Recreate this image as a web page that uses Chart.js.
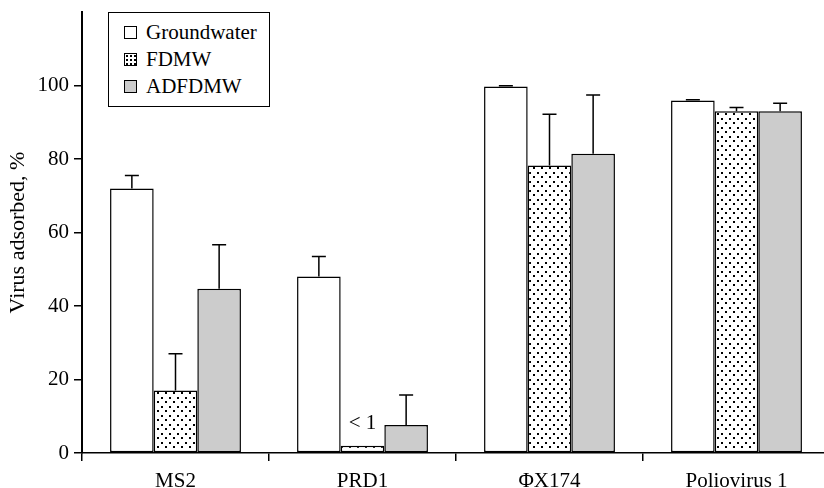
<!DOCTYPE html>
<html>
<head>
<meta charset="utf-8">
<script src="https://cdn.jsdelivr.net/npm/chart.js@4/dist/chart.umd.min.js"></script>
<style>
    html, body { margin: 0; padding: 0; background: #fff; overflow: hidden; }
    #wrap { position: relative; width: 832px; height: 488px; }
    #leyenda {
        position: absolute; left: 108px; top: 12px; width: 162px; height: 95px;
        border: 1px solid #000; box-sizing: border-box; background: #fff;
        font-family: "Liberation Serif", serif; font-size: 21px; color: #000;
        padding-top: 6px;
    }
    #leyenda .item { display: flex; align-items: center; height: 27px; padding-left: 15px; }
    #leyenda .caja { width: 11px; height: 11px; border: 1px solid #000; margin-right: 9px; }
</style>
</head>
<body>
<div id="wrap">
    <canvas id="grafico1" width="832" height="488"></canvas>
    <div id="leyenda"></div>
</div>
<script>
/* --------------- datos --------------- */

const categorias = ['MS2', 'PRD1', '\u03A6X174', 'Poliovirus 1'];
const series = ['Groundwater', 'FDMW', 'ADFDMW'];

const groundwater = [72, 48, 99.7, 95.9];
const fdmw = [17, 2, 78.2, 93];
const adfdmw = [44.7, 7.6, 81.4, 93];

// desviacion (solo hacia arriba)
const errGroundwater = [3.5, 5.5, 0.2, 0.2];
const errFdmw = [10, 0, 14, 1];
const errAdfdmw = [12, 8.2, 16, 2.2];

const notasFdmw = ['', '< 1', '', ''];
const yTicks = [0, 20, 40, 60, 80, 100];

/* --------------- configuracion --------------- */

const fuente = '"Liberation Serif", serif';

function patronPuntos() {
    const c = document.createElement('canvas');
    c.width = 8;
    c.height = 9;
    const ctx = c.getContext('2d');
    ctx.fillStyle = '#fff';
    ctx.fillRect(0, 0, 8, 9);
    ctx.fillStyle = '#000';
    ctx.fillRect(1, 1, 2, 2);
    ctx.fillRect(5, 5, 2, 2);
    return ctx.createPattern(c, 'repeat');
}

const errores = [errGroundwater, errFdmw, errAdfdmw];
const notas = [null, notasFdmw, null];

const barrasError = {
    id: 'barrasError',
    afterDatasetsDraw(chart) {
        const ctx = chart.ctx;
        const y = chart.scales.y;
        ctx.save();
        ctx.strokeStyle = '#000';
        ctx.lineWidth = 1.5;
        chart.data.datasets.forEach((ds, i) => {
            const meta = chart.getDatasetMeta(i);
            meta.data.forEach((bar, j) => {
                const e = errores[i][j];
                if (e > 0) {
                    const top = y.getPixelForValue(ds.data[j] + e);
                    ctx.beginPath();
                    ctx.moveTo(bar.x, bar.y);
                    ctx.lineTo(bar.x, top);
                    ctx.moveTo(bar.x - 7, top);
                    ctx.lineTo(bar.x + 7, top);
                    ctx.stroke();
                }
                if (notas[i] && notas[i][j]) {
                    ctx.fillStyle = '#000';
                    ctx.font = '21px ' + fuente;
                    ctx.textAlign = 'center';
                    ctx.textBaseline = 'middle';
                    ctx.fillText(notas[i][j], bar.x, y.getPixelForValue(ds.data[j]) - 22);
                }
            });
        });
        ctx.restore();
    }
};

const rellenos = ['#ffffff', patronPuntos(), '#cccccc'];
const valores = [groundwater, fdmw, adfdmw];

const data1 = {
    labels: categorias,
    datasets: series.map((s, i) => ({
        label: s,
        data: valores[i],
        backgroundColor: rellenos[i],
        borderColor: '#000',
        borderWidth: 1.5,
        borderSkipped: false,
        categoryPercentage: 0.7,
        barPercentage: 1.0
    }))
};

const config1 = {
    responsive: false,
    animation: false,
    layout: { padding: { left: 0, top: 12, right: 2, bottom: 0 } },
    plugins: {
        legend: { display: false },
        tooltip: { enabled: false }
    },
    scales: {
        x: {
            grid: { display: true, drawOnChartArea: false, drawTicks: true, tickLength: 8, offset: true, color: '#000', lineWidth: 1.5 },
            border: { color: '#000', width: 1.5 },
            ticks: { color: '#000', font: { family: fuente, size: 21 }, padding: 8, maxRotation: 0 },
            afterFit: (s) => { s.height = 35; s.paddingLeft = 0; s.paddingRight = 0; }
        },
        y: {
            min: 0,
            max: 120,
            afterBuildTicks: (s) => { s.ticks = yTicks.map(v => ({ value: v })); },
            grid: { display: true, drawOnChartArea: false, drawTicks: true, tickLength: 8, color: '#000', lineWidth: 1.5 },
            border: { color: '#000', width: 2 },
            ticks: { color: '#000', font: { family: fuente, size: 21 }, padding: 5 },
            title: { display: true, text: 'Virus adsorbed, %', color: '#000', font: { family: fuente, size: 22 }, padding: { top: 5, bottom: 0 } },
            afterFit: (s) => { s.width = 82; s.paddingTop = 0; s.paddingBottom = 0; }
        }
    }
};

new Chart(document.getElementById('grafico1'), {
    type: 'bar',
    data: data1,
    options: config1,
    plugins: [barrasError]
});

/* --------------- leyenda --------------- */

const fondosLeyenda = ['#fff', 'radial-gradient(circle, #000 0.8px, transparent 1.2px) 0 0 / 4px 4px, #fff', '#cccccc'];
const leyenda = document.getElementById('leyenda');
series.forEach((s, i) => {
    const item = document.createElement('div');
    item.className = 'item';
    const caja = document.createElement('span');
    caja.className = 'caja';
    caja.style.background = fondosLeyenda[i];
    const txt = document.createElement('span');
    txt.textContent = s;
    item.appendChild(caja);
    item.appendChild(txt);
    leyenda.appendChild(item);
});
</script>
</body>
</html>
